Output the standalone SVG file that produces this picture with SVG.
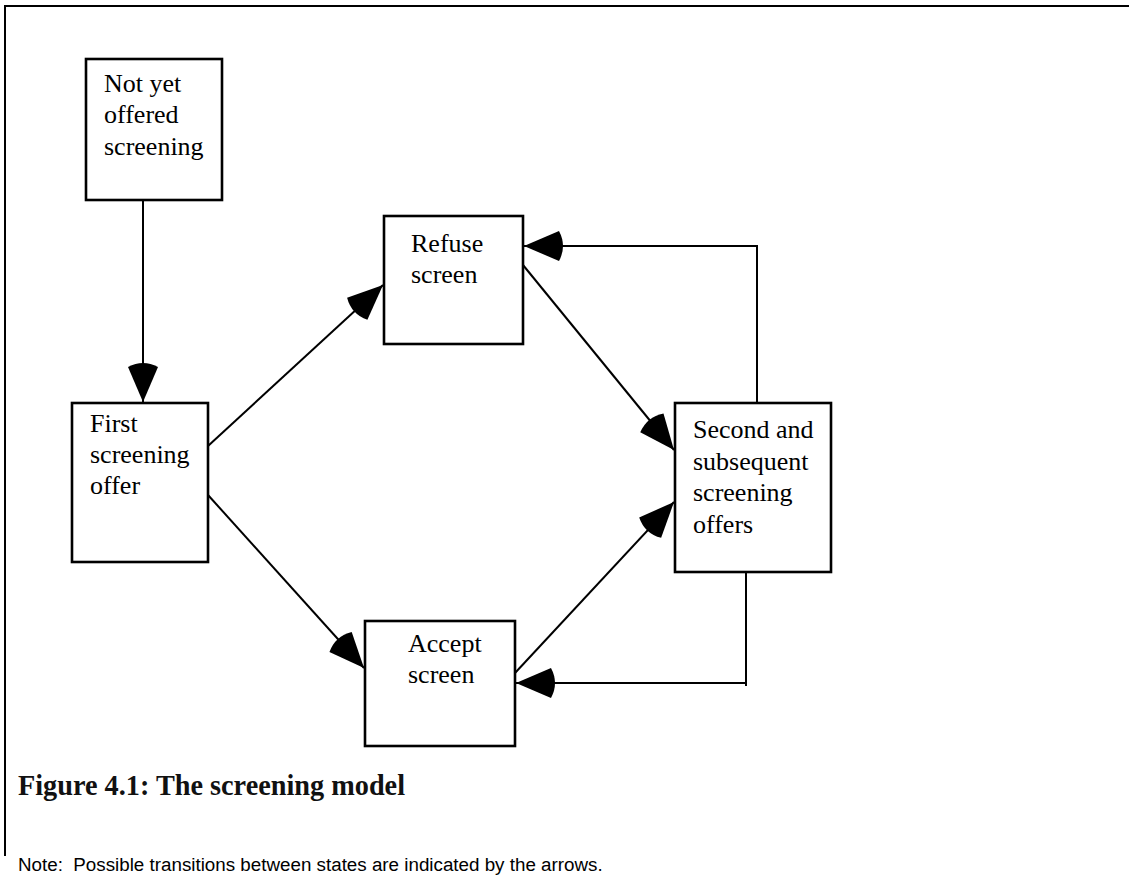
<svg xmlns="http://www.w3.org/2000/svg" width="1129" height="875" viewBox="0 0 1129 875">
  <defs>
    <style>
      .box { fill: #ffffff; stroke: #000000; stroke-width: 2.6; }
      .label { font-family: "Liberation Serif", "Times New Roman", serif; font-size: 26px; fill: #000000; }
      .wire { fill: none; stroke: #000000; stroke-width: 2; }
      .frame { fill: none; stroke: #000000; stroke-width: 2; }
      .caption { font-family: "Liberation Serif", "Times New Roman", serif; font-weight: bold; font-size: 29px; fill: #111111; }
      .note { font-family: "Liberation Sans", Arial, sans-serif; font-size: 18.8px; fill: #000000; }
    </style>
    <marker id="head" markerUnits="userSpaceOnUse" viewBox="-46 -17 48 34" refX="0" refY="0" markerWidth="48" markerHeight="34" orient="auto">
      <path d="M0,0 L-35,-15 Q-43,0 -35,15 Z" fill="#000000"/>
    </marker>
  </defs>

  <!-- page frame -->
  <path class="frame" d="M5,856 L5,6 L1129,6"/>

  <!-- transitions -->
  <g id="connectors">
    <line class="wire" x1="143" y1="200" x2="143" y2="402" marker-end="url(#head)"/>
    <line class="wire" x1="208" y1="446" x2="383" y2="285" marker-end="url(#head)"/>
    <line class="wire" x1="208" y1="495" x2="364" y2="668" marker-end="url(#head)"/>
    <line class="wire" x1="523" y1="265" x2="674" y2="450" marker-end="url(#head)"/>
    <line class="wire" x1="515" y1="673" x2="674" y2="502" marker-end="url(#head)"/>
    <path class="wire" d="M757,403 L757,246 L524,246" marker-end="url(#head)"/>
    <path class="wire" d="M746,572 L746,686 M746,683 L516,683" marker-end="url(#head)"/>
  </g>

  <g id="not-yet-offered">
    <rect class="box" x="86" y="59" width="136" height="141"/>
    <text class="label" x="104" y="92">Not yet</text>
    <text class="label" x="104" y="123">offered</text>
    <text class="label" x="104" y="155">screening</text>
  </g>

  <g id="first-offer">
    <rect class="box" x="72" y="403" width="136" height="159"/>
    <text class="label" x="90" y="432">First</text>
    <text class="label" x="90" y="463">screening</text>
    <text class="label" x="90" y="494">offer</text>
  </g>

  <g id="refuse">
    <rect class="box" x="384" y="216" width="139" height="128"/>
    <text class="label" x="411" y="252">Refuse</text>
    <text class="label" x="411" y="283">screen</text>
  </g>

  <g id="accept">
    <rect class="box" x="365" y="621" width="150" height="125"/>
    <text class="label" x="408" y="652">Accept</text>
    <text class="label" x="408" y="683">screen</text>
  </g>

  <g id="subsequent-offers">
    <rect class="box" x="675" y="403" width="156" height="169"/>
    <text class="label" x="693" y="438">Second and</text>
    <text class="label" x="693" y="470">subsequent</text>
    <text class="label" x="693" y="501">screening</text>
    <text class="label" x="693" y="533">offers</text>
  </g>

  <text class="caption" x="18" y="795" textLength="387" lengthAdjust="spacingAndGlyphs">Figure 4.1: The screening model</text>
  <text class="note" x="18" y="871">Note:&#160; Possible transitions between states are indicated by the arrows.</text>
</svg>
